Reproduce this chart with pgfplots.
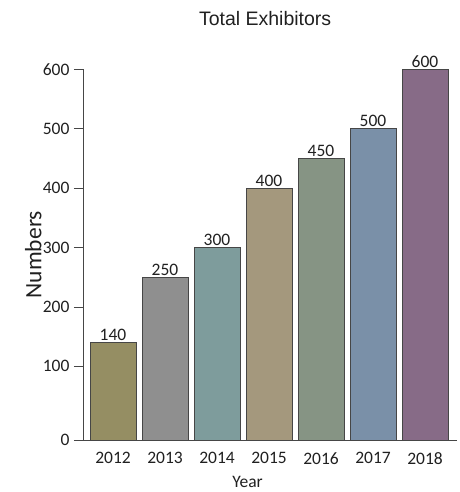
\documentclass[border=0pt]{standalone}
\usepackage{fontspec}
\setmainfont{Carlito}
\newfontfamily\titlefont{Liberation Sans}
\usepackage{pgfplots}
\pgfplotsset{compat=1.18}
\definecolor{txt}{RGB}{32,32,32}
\definecolor{axisgray}{RGB}{70,70,70}
\definecolor{edge}{RGB}{70,70,70}
\definecolor{cA}{RGB}{149,142,99}
\definecolor{cB}{RGB}{143,143,143}
\definecolor{cC}{RGB}{126,156,156}
\definecolor{cD}{RGB}{164,152,125}
\definecolor{cE}{RGB}{134,148,132}
\definecolor{cF}{RGB}{122,144,168}
\definecolor{cG}{RGB}{135,107,135}
\begin{document}
\begin{tikzpicture}
\begin{axis}[name=ax, scale only axis, width=374pt, height=370.7pt,
  /pgf/number format/assume math mode=true,
  xmin=-0.577, xmax=6.615, ymin=0, ymax=624,
  y filter/.expression={y+24},
  axis x line*=bottom, axis y line*=left,
  axis line style={draw=axisgray, line width=0.8pt},
  xtick={0,1,2,3,4,5,6}, xticklabels={2012,2013,2014,2015,2016,2017,2018},
  ytick={0,124,224,324,424,524,624}, yticklabels={0,100,200,300,400,500,600},
  ytick align=outside, major tick length=9pt,
  x tick style={draw=none},
  y tick style={draw=axisgray, line width=0.8pt},
  tick label style={font=\fontsize{17.5}{20}\selectfont, text=txt},
  yticklabel style={xshift=-1pt},
  xticklabel style={yshift=0pt},
  ybar, bar width=0.885, bar shift=0pt,
  every axis plot/.append style={draw=edge, line width=0.8pt},
  nodes near coords, point meta=explicit symbolic,
  nodes near coords style={font=\fontsize{17.5}{20}\selectfont, text=txt, anchor=south, inner sep=1.5pt},
  title={Total Exhibitors},
  title style={at={(axis description cs:0.487,1.120)}, anchor=center, text=txt, font=\titlefont\fontsize{19.5}{22}\selectfont},
  xlabel={Year},
  xlabel style={at={(axis description cs:0.44,-0.113)}, anchor=center, text=txt, font=\fontsize{17.5}{20}\selectfont},
  ylabel={Numbers},
  ylabel style={at={(axis description cs:-0.133,0.5)}, anchor=center, text=txt, font=\fontsize{23.5}{26}\selectfont},
]
\addplot[fill=cA] coordinates {(0,140) [140]};
\addplot[fill=cB] coordinates {(1,250) [250]};
\addplot[fill=cC] coordinates {(2,300) [300]};
\addplot[fill=cD] coordinates {(3,400) [400]};
\addplot[fill=cE] coordinates {(4,450) [450]};
\addplot[fill=cF] coordinates {(5,500) [500]};
\addplot[fill=cG] coordinates {(6,600) [600]};
\end{axis}
\pgfresetboundingbox
\path[use as bounding box] (ax.south west) ++(-83pt,-52pt) rectangle ++(459pt,492pt);
\end{tikzpicture}
\end{document}
